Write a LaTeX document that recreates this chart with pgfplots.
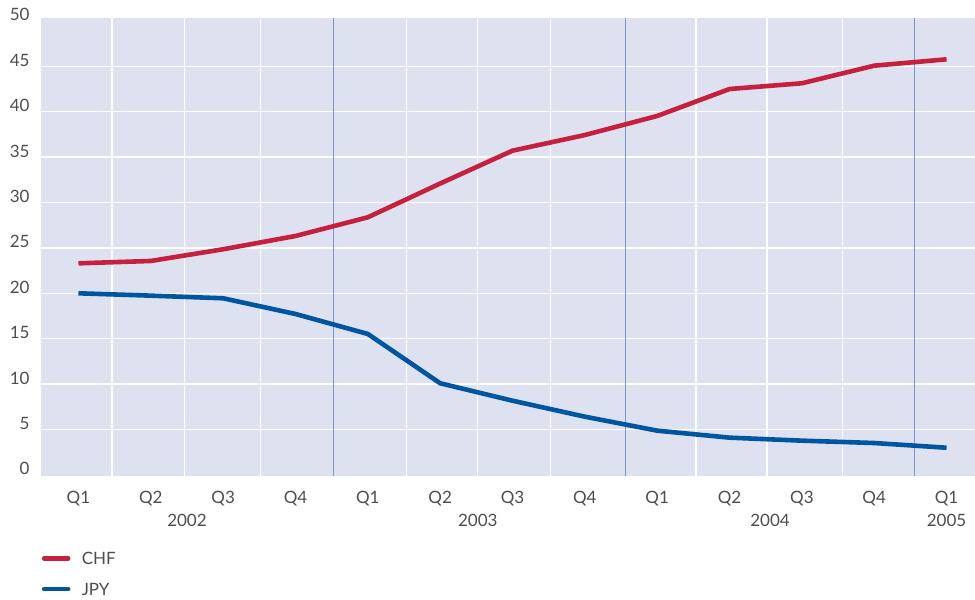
\documentclass[border=0pt]{standalone}
\usepackage{fontspec}
\setmainfont{Lato}
\usepackage{pgfplots}
\pgfplotsset{compat=1.18}
\definecolor{bg}{RGB}{222,226,240}
\definecolor{chf}{RGB}{197,32,62}
\definecolor{jpy}{RGB}{0,85,160}
\definecolor{yr}{RGB}{122,150,205}
\definecolor{txt}{RGB}{77,77,77}
\begin{document}
\begin{tikzpicture}
\useasboundingbox (-20.5pt,-62.15pt) rectangle (467pt,237.85pt);
\begin{axis}[
 at={(0,0)}, anchor=south west,
 scale only axis, width=467pt, height=228.85pt,
 xmin=-0.518, xmax=12.393, ymin=-0.08, ymax=50.33,
 axis background/.style={fill=bg},
 axis line style={draw=none},
 major tick length=0pt, minor tick length=0pt,
 xtick={0,...,12},
 xticklabels={Q1,Q2,Q3,Q4,Q1,Q2,Q3,Q4,Q1,Q2,Q3,Q4,Q1},
 ytick={0,5,...,50},
 minor xtick={0.463,1.463,2.519,4.538,5.514,6.523,8.537,9.515,10.560},
 minor ytick={5,10,...,45},
 xminorgrids=true, yminorgrids=true,
 xmajorgrids=false, ymajorgrids=false,
 minor grid style={white, line width=0.7pt},
 extra x ticks={3.526,7.565,11.561},
 extra x tick labels={},
 extra x tick style={xmajorgrids=true, major grid style={draw=yr, line width=0.5pt}},
 tick label style={font=\fontsize{8.5pt}{10pt}\selectfont, text=txt},
 xticklabel style={anchor=base, inner sep=0pt, yshift=-13.65pt},
 yticklabel style={anchor=base east, inner sep=0pt, xshift=-5.5pt},
 /pgf/number format/assume math mode=true,
 clip=false,
 legend style={at={(axis description cs:0,0)}, anchor=north west, xshift=0.45pt, yshift=-38.25pt,
   draw=none, fill=none, inner sep=0pt, outer sep=0pt, row sep=9.1pt, column sep=5.65pt,
   font=\fontsize{8.5pt}{10pt}\selectfont, text=txt,
   nodes={inner sep=0pt, text height=6.2pt, text depth=0pt}},
 legend image code/.code={\draw[#1, line width=2.3pt, line cap=round] (0pt,0pt) -- (12pt,0pt);},
 legend cell align=left,
]
\addplot[chf, line width=2.3pt, line join=round] coordinates {
 (0,23.31) (1,23.57) (2,24.86) (3,26.32) (4,28.38) (5,32.1) (6,35.72)
 (7,37.44) (8,39.54) (9,42.51) (10,43.14) (11,45.08) (12,45.78)};
\addlegendentry{CHF}
\addplot[jpy, line width=2.3pt, line join=round] coordinates {
 (0,20.01) (1,19.75) (2,19.46) (3,17.73) (4,15.53) (5,10.1) (6,8.18)
 (7,6.42) (8,4.88) (9,4.11) (10,3.78) (11,3.52) (12,3.0)};
\addlegendentry{JPY}
\node[anchor=base, inner sep=0pt, yshift=-25.2pt, font=\fontsize{8.5pt}{10pt}\selectfont, text=txt] at (axis cs:1.5,-0.08) {2002};
\node[anchor=base, inner sep=0pt, yshift=-25.2pt, font=\fontsize{8.5pt}{10pt}\selectfont, text=txt] at (axis cs:5.52,-0.08) {2003};
\node[anchor=base, inner sep=0pt, yshift=-25.2pt, font=\fontsize{8.5pt}{10pt}\selectfont, text=txt] at (axis cs:9.56,-0.08) {2004};
\node[anchor=base, inner sep=0pt, yshift=-25.2pt, font=\fontsize{8.5pt}{10pt}\selectfont, text=txt] at (axis cs:12.0,-0.08) {2005};
\end{axis}
\end{tikzpicture}
\end{document}
